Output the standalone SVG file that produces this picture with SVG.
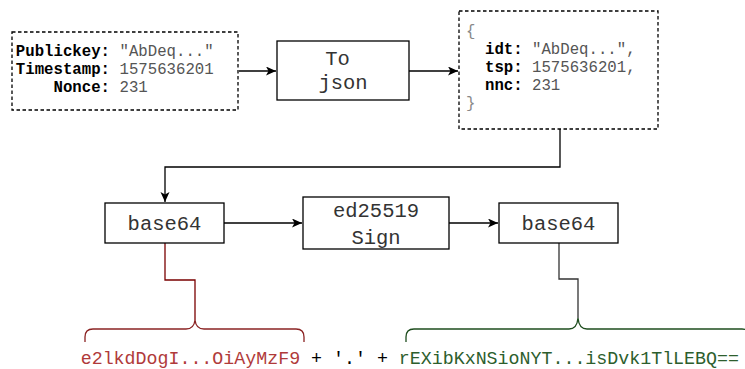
<svg xmlns="http://www.w3.org/2000/svg" width="745" height="369" viewBox="0 0 745 369">
  <defs>
    <marker id="arrow" markerUnits="userSpaceOnUse" markerWidth="12" markerHeight="10" refX="10" refY="4.5" orient="auto">
      <path d="M0,0 L10,4.5 L0,9 L2.5,4.5 z" fill="#000"/>
    </marker>
  </defs>
  <style>
    .box { fill: #fff; stroke: #000; stroke-width: 1.3; }
    .dash { fill: #fff; stroke: #000; stroke-width: 1.3; stroke-dasharray: 3.5 2.5; }
    .title { font-family: "Liberation Mono", "Courier New", monospace; font-size: 20.5px; fill: #333; text-anchor: middle; }
    .mono { font-family: "Liberation Mono", "Courier New", monospace; font-size: 15.7px; }
    .key { font-weight: bold; fill: #000; }
    .val { fill: #555; }
    .brk { fill: #888; }
    .edge { fill: none; stroke: #000; stroke-width: 1.3; }
    .out { font-family: "Liberation Mono", "Courier New", monospace; font-size: 18.3px; }
  </style>

  <!-- connectors -->
  <g id="connectors">
    <path class="edge" d="M239,71 H276" marker-end="url(#arrow)"/>
    <path class="edge" d="M409,71 H458" marker-end="url(#arrow)"/>
    <path class="edge" d="M560,129 V167 H165 V202" marker-end="url(#arrow)"/>
    <path class="edge" d="M224,223 H302" marker-end="url(#arrow)"/>
    <path class="edge" d="M449,223 H498" marker-end="url(#arrow)"/>
    <path fill="none" stroke="#7a0000" stroke-width="1.3" d="M165,243 V280 H195 V320"/>
    <path fill="none" stroke="#333" stroke-width="1.3" d="M559,243 V279 H578 V318"/>
  </g>

  <!-- input record -->
  <g id="input">
    <rect class="dash" x="12" y="32" width="226" height="78"/>
    <text class="mono key" x="110" y="55.5" text-anchor="end">Publickey:</text>
    <text class="mono val" x="119.5" y="55.5">"AbDeq..."</text>
    <text class="mono key" x="110" y="73.5" text-anchor="end">Timestamp:</text>
    <text class="mono val" x="119.5" y="73.5">1575636201</text>
    <text class="mono key" x="110" y="91.5" text-anchor="end">Nonce:</text>
    <text class="mono val" x="119.5" y="91.5">231</text>
  </g>

  <!-- to json step -->
  <g id="tojson">
    <rect class="box" x="277" y="41" width="132" height="59"/>
    <text class="title" x="337.5" y="64.5">To</text>
    <text class="title" x="343" y="89">json</text>
  </g>

  <!-- json object -->
  <g id="json">
    <rect class="dash" x="459" y="11" width="199" height="118"/>
    <text class="mono brk" x="466" y="36">{</text>
    <text class="mono key" x="485" y="54">idt:</text>
    <text class="mono val" x="532" y="54">"AbDeq...",</text>
    <text class="mono key" x="485" y="72">tsp:</text>
    <text class="mono val" x="532" y="72">1575636201,</text>
    <text class="mono key" x="485" y="90">nnc:</text>
    <text class="mono val" x="532" y="90">231</text>
    <text class="mono brk" x="466" y="108">}</text>
  </g>

  <!-- first base64 -->
  <g id="base64a">
    <rect class="box" x="105" y="203" width="119" height="40"/>
    <text class="title" x="164.5" y="229.5">base64</text>
  </g>

  <!-- signing step -->
  <g id="sign">
    <rect class="box" x="303" y="197" width="146" height="52"/>
    <text class="title" x="376" y="216.5">ed25519</text>
    <text class="title" x="376" y="243.5">Sign</text>
  </g>

  <!-- second base64 -->
  <g id="base64b">
    <rect class="box" x="499" y="203" width="119" height="40"/>
    <text class="title" x="558.5" y="229.5">base64</text>
  </g>

  <!-- braces -->
  <g id="brace-red">
    <path fill="none" stroke="#8b2323" stroke-width="1.3" d="M85,342 V337 Q85,329 93,329 H186 Q194,329 195,320 Q196,329 204,329 H296 Q304,329 304,337 V342"/>
  </g>
  <g id="brace-green">
    <path fill="none" stroke="#1e4d1e" stroke-width="1.3" d="M406,342 V337 Q406,329 414,329 H569 Q577,329 578,318 Q579,329 587,329 H742 Q750,329 750,337 V342"/>
  </g>

  <!-- resulting token -->
  <g id="token">
    <text class="out" x="80.7" y="364" xml:space="preserve"><tspan fill="#b03a3a">e2lkdDogI...OiAyMzF9</tspan><tspan fill="#000"> + '.' + </tspan><tspan fill="#2d5e2d">rEXibKxNSioNYT...isDvk1TlLEBQ==</tspan></text>
  </g>
</svg>
